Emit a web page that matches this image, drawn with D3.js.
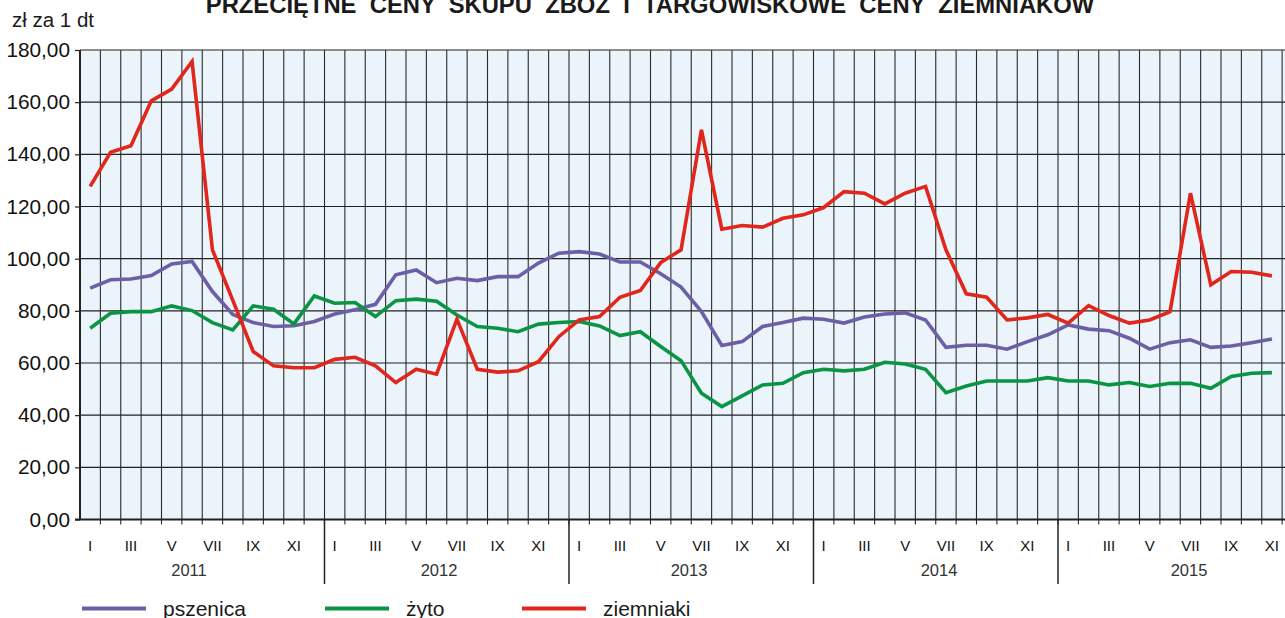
<!DOCTYPE html>
<html>
<head>
<meta charset="utf-8">
<script src="https://cdn.jsdelivr.net/npm/d3@7"></script>
<style>
  body { margin: 0; background: #fff; }
  svg { display: block; font-family: "Liberation Sans", Arial, sans-serif; }
</style>
</head>
<body>
<div id="cont"></div>
<script>
// data (zl za 1 dt), I 2011 .. XI 2015
var years = ["2011", "2012", "2013", "2014", "2015"];
var monthLabels = ["I", "", "III", "", "V", "", "VII", "", "IX", "", "XI", ""];

var pszenica = [
  88.7, 91.9, 92.2, 93.5, 98.0, 98.9, 87.4, 78.6, 75.5, 74.0, 74.3, 75.9,
  78.8, 80.4, 82.5, 93.8, 95.7, 90.8, 92.5, 91.6, 93.1, 93.1, 98.3, 102.1,
  102.7, 101.8, 98.7, 98.7, 94.2, 89.1, 79.7, 66.7, 68.2, 74.0, 75.5, 77.2,
  76.8, 75.3, 77.6, 78.8, 79.2, 76.5, 66.0, 66.8, 66.8, 65.3, 68.2, 70.8,
  74.6, 73.0, 72.4, 69.5, 65.3, 67.8, 68.9, 66.0, 66.5, 67.8, 69.2
];
var zyto = [
  73.3, 79.1, 79.7, 79.7, 81.9, 80.1, 75.5, 72.7, 81.9, 80.6, 75.0, 85.7,
  82.9, 83.2, 77.8, 83.9, 84.5, 83.7, 78.4, 74.0, 73.3, 72.0, 74.9, 75.5,
  75.9, 74.2, 70.5, 72.0, 66.3, 60.9, 48.4, 43.3, 47.4, 51.6, 52.2, 56.3,
  57.6, 57.0, 57.6, 60.3, 59.6, 57.6, 48.6, 51.2, 53.1, 53.1, 53.1, 54.4,
  53.1, 53.1, 51.6, 52.5, 51.0, 52.2, 52.2, 50.3, 54.8, 56.1, 56.3
];
var ziemniaki = [
  127.7, 140.8, 143.3, 160.5, 165.0, 175.6, 103.4, 84.0, 64.4, 58.9, 58.2, 58.2,
  61.4, 62.2, 58.9, 52.5, 57.6, 55.7, 76.8, 57.6, 56.5, 57.0, 60.5, 70.1,
  76.5, 77.8, 85.2, 87.8, 98.5, 103.4, 149.4, 111.3, 112.7, 112.1, 115.5, 116.8,
  119.6, 125.7, 125.1, 121.0, 125.1, 127.7, 103.4, 86.5, 85.2, 76.5, 77.3, 78.6,
  75.3, 82.0, 78.2, 75.3, 76.5, 79.7, 125.1, 90.0, 95.1, 94.8, 93.4
];
var yTicks = [0, 20, 40, 60, 80, 100, 120, 140, 160, 180];

var series = [
  { name: "pszenica", values: pszenica, color: "#6b5fa6" },
  { name: "żyto", values: zyto, color: "#0b9444" },
  { name: "ziemniaki", values: ziemniaki, color: "#e1261c" }
];

var W = 1285, H = 618;
var plotLeft = 80, plotTop = 50, plotBottom = 519.5;
var monthW = 244.5 / 12;

var svg = d3.select("#cont").append("svg")
  .attr("width", W).attr("height", H);

var x = d3.scaleLinear().domain([0, 60]).range([plotLeft, plotLeft + 60 * monthW]);
var y = d3.scaleLinear().domain([0, 180]).range([plotBottom, plotTop]);

// title (cut at the top edge like in the original)
svg.append("text")
  .attr("x", 650).attr("y", 12.5)
  .attr("text-anchor", "middle")
  .style("white-space", "pre")
  .style("font-weight", "bold")
  .style("font-size", "23.8px")
  .style("fill", "#1a1a1a")
  .text("PRZECIĘTNE  CENY  SKUPU  ZBÓŻ  I  TARGOWISKOWE  CENY  ZIEMNIAKÓW");

svg.append("text")
  .attr("x", 12).attr("y", 27)
  .style("font-size", "20.5px")
  .style("fill", "#1a1a1a")
  .text("zł za 1 dt");

// plot background
svg.append("rect")
  .attr("x", x(0)).attr("y", y(180))
  .attr("width", x(60) - x(0)).attr("height", y(0) - y(180))
  .style("fill", "#eaf4fa");

// vertical grid - month boundaries
svg.append("g").selectAll("line")
  .data(d3.range(1, 60))
  .enter().append("line")
  .attr("x1", function(d) { return x(d); })
  .attr("x2", function(d) { return x(d); })
  .attr("y1", y(180)).attr("y2", y(0) + 5)
  .style("stroke", "#2a2a2a")
  .style("stroke-width", 1.1);

// horizontal grid
svg.append("g").selectAll("line")
  .data(yTicks.slice(1))
  .enter().append("line")
  .attr("x1", x(0)).attr("x2", x(60))
  .attr("y1", function(d) { return y(d); })
  .attr("y2", function(d) { return y(d); })
  .style("stroke", "#222")
  .style("stroke-width", 1.1);

// y axis
var yAxis = d3.axisLeft(y)
  .tickValues(yTicks)
  .tickSize(5)
  .tickPadding(5)
  .tickFormat(function(d) { return d3.format(".2f")(d).replace(".", ","); });

var gy = svg.append("g").attr("transform", "translate(" + x(0) + ",0)").call(yAxis);
gy.select(".domain").remove();
gy.selectAll("line").style("stroke", "#222").style("stroke-width", 1.2);
gy.selectAll("text")
  .style("font-size", "20.8px")
  .style("font-family", "Liberation Sans, Arial, sans-serif")
  .style("fill", "#111");

svg.append("line")
  .attr("x1", x(0)).attr("x2", x(0))
  .attr("y1", y(180)).attr("y2", y(0))
  .style("stroke", "#222").style("stroke-width", 2);
svg.append("line")
  .attr("x1", x(0) - 5).attr("x2", x(60))
  .attr("y1", y(0)).attr("y2", y(0))
  .style("stroke", "#222").style("stroke-width", 2);

// year separators
svg.append("g").selectAll("line")
  .data(d3.range(1, years.length))
  .enter().append("line")
  .attr("x1", function(d) { return x(d * 12); })
  .attr("x2", function(d) { return x(d * 12); })
  .attr("y1", y(0)).attr("y2", 584)
  .style("stroke", "#222")
  .style("stroke-width", 1.5);

// month labels
var months = [];
years.forEach(function(yr, yi) {
  monthLabels.forEach(function(m, mi) {
    if (m) months.push({ label: m, idx: yi * 12 + mi });
  });
});
svg.append("g").selectAll("text")
  .data(months)
  .enter().append("text")
  .attr("x", function(d) { return x(d.idx + 0.5); })
  .attr("y", 551)
  .attr("text-anchor", "middle")
  .style("font-size", "15px")
  .style("fill", "#111")
  .text(function(d) { return d.label; });

// year labels
var xYear = d3.scaleLinear().domain([0, 4]).range([189, 1189]);
svg.append("g").selectAll("text")
  .data(years)
  .enter().append("text")
  .attr("x", function(d, i) { return xYear(i); })
  .attr("y", 576)
  .attr("text-anchor", "middle")
  .style("font-size", "16.5px")
  .style("fill", "#333")
  .text(function(d) { return d; });

// lines
var line = d3.line()
  .x(function(d, i) { return x(i + 0.5); })
  .y(function(d) { return y(d); });

svg.append("g").selectAll("path")
  .data(series)
  .enter().append("path")
  .attr("d", function(d) { return line(d.values); })
  .style("fill", "none")
  .style("stroke", function(d) { return d.color; })
  .style("stroke-width", 3.6)
  .style("stroke-linejoin", "miter");

// legend
var legendX = [82, 325, 522];
var lg = svg.append("g").selectAll("g")
  .data(series)
  .enter().append("g")
  .attr("transform", function(d, i) { return "translate(" + legendX[i] + ",0)"; });
lg.append("line")
  .attr("x1", 0).attr("x2", 64)
  .attr("y1", 608.5).attr("y2", 608.5)
  .style("stroke", function(d) { return d.color; })
  .style("stroke-width", 4);
lg.append("text")
  .attr("x", 81).attr("y", 616)
  .style("font-size", "21px")
  .style("fill", "#1a1a1a")
  .text(function(d) { return d.name; });
</script>
</body>
</html>
